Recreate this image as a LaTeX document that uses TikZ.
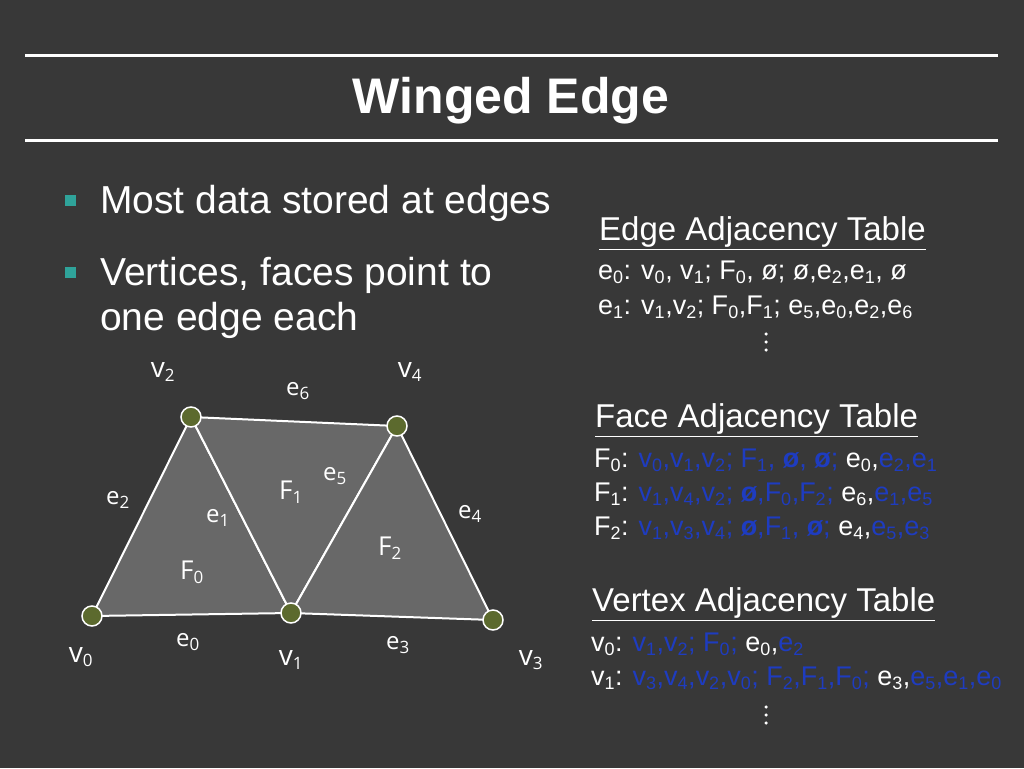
\documentclass[tikz,border=0pt]{standalone}
\usepackage{fontspec}
\setmainfont{Liberation Sans}
\newfontfamily\lblfont{Open Sans}
\definecolor{bg}{HTML}{383838}
\definecolor{bl}{HTML}{1E3CC0}
\definecolor{tealc}{HTML}{2FA39A}
\definecolor{vdot}{HTML}{5C6A2E}
\definecolor{face}{HTML}{686868}
\newcommand{\B}[1]{\textcolor{bl}{#1}}
\newcommand{\sbs}[1]{\ensuremath{_{\mbox{\fontsize{18}{18}\selectfont #1}}}}
\newcommand{\sbl}[1]{\ensuremath{_{\mbox{\lblfont\fontsize{17}{17}\selectfont #1}}}}
\begin{document}
\begin{tikzpicture}[x=1pt,y=-1pt,
  vtx/.style={circle,fill=vdot,draw=white,line width=1.5pt,minimum size=20pt,inner sep=0pt},
  lbl/.style={text=white,font=\lblfont\fontsize{24}{26}\selectfont,inner sep=0pt},
  tri/.style={fill=face,draw=white,line width=2pt,line join=round},
  row/.style={text=white,anchor=west,inner sep=0pt,font=\fontsize{27}{29}\selectfont},
  hdr/.style={text=white,anchor=west,inner sep=0pt,font=\fontsize{33}{35}\selectfont},
  dot/.style={circle,fill=white,inner sep=0pt,minimum size=3.5pt}]
\useasboundingbox (0,0) rectangle (1024,768);
\fill[bg] (0,0) rectangle (1024,768);
\draw[white,line width=3pt] (25,56) -- (998,56);
\draw[white,line width=3pt] (25,140) -- (998,140);
\node[text=white,font=\bfseries\fontsize{50}{52}\selectfont] (title) at (511,101) {Winged Edge};
\fill[tealc] (65,195) rectangle (76,206);
\fill[tealc] (65,267) rectangle (76,278);
\node[text=white,anchor=west,font=\fontsize{39}{42}\selectfont,inner sep=0pt] (b1) at (100,203) {Most data stored at edges};
\node[text=white,anchor=west,font=\fontsize{39}{42}\selectfont,inner sep=0pt,align=left] (b2) at (100,298) {Vertices, faces point to\\[3pt]one edge each};
% mesh
\coordinate (p0) at (92,616); \coordinate (p1) at (291,613); \coordinate (p2) at (191,417);
\coordinate (p3) at (493,620); \coordinate (p4) at (397,426);
\filldraw[tri] (p0) -- (p1) -- (p2) -- cycle;
\filldraw[tri] (p2) -- (p1) -- (p4) -- cycle;
\filldraw[tri] (p1) -- (p3) -- (p4) -- cycle;
\node[vtx] (v0) at (p0) {}; \node[vtx] (v1) at (p1) {}; \node[vtx] (v2) at (p2) {};
\node[vtx] (v3) at (p3) {}; \node[vtx] (v4) at (p4) {};
\node[lbl,font=\lblfont\fontsize{28}{30}\selectfont] (lv0) at (81,657) {v\sbl{0}};
\node[lbl,font=\lblfont\fontsize{28}{30}\selectfont] (lv1) at (291,660) {v\sbl{1}};
\node[lbl,font=\lblfont\fontsize{28}{30}\selectfont] (lv2) at (163,372) {v\sbl{2}};
\node[lbl,font=\lblfont\fontsize{28}{30}\selectfont] (lv3) at (531,660) {v\sbl{3}};
\node[lbl,font=\lblfont\fontsize{28}{30}\selectfont] (lv4) at (410,372) {v\sbl{4}};
\node[lbl] (le0) at (188,642) {e\sbl{0}};
\node[lbl] (le1) at (218,518) {e\sbl{1}};
\node[lbl] (le2) at (118,500) {e\sbl{2}};
\node[lbl] (le3) at (398,645) {e\sbl{3}};
\node[lbl] (le4) at (470,514) {e\sbl{4}};
\node[lbl] (le5) at (335,476) {e\sbl{5}};
\node[lbl] (le6) at (298,391) {e\sbl{6}};
\node[lbl,font=\lblfont\fontsize{26}{28}\selectfont] (F0) at (192,572) {F\sbl{0}};
\node[lbl,font=\lblfont\fontsize{26}{28}\selectfont] (F1) at (291,492) {F\sbl{1}};
\node[lbl,font=\lblfont\fontsize{26}{28}\selectfont] (F2) at (390,548) {F\sbl{2}};
% edge table
\node[hdr] (eh) at (599,233) {\underline{Edge Adjacency Table}};
\node[row] (er0) at (598,272) {e\sbs{0}: v\sbs{0}, v\sbs{1}; F\sbs{0}, ø; ø,e\sbs{2},e\sbs{1}, ø};
\node[row] (er1) at (598,307) {e\sbs{1}: v\sbs{1},v\sbs{2}; F\sbs{0},F\sbs{1}; e\sbs{5},e\sbs{0},e\sbs{2},e\sbs{6}};
\node[dot] (ed1) at (766,334) {}; \node[dot] (ed2) at (766,342) {}; \node[dot] (ed3) at (766,350) {};
% face table
\node[hdr] (fh) at (595,420) {\underline{Face Adjacency Table}};
\node[row] (fr0) at (594,460) {F\sbs{0}: \B{v\sbs{0},v\sbs{1},v\sbs{2}; F\sbs{1}, \textbf{ø}, \textbf{ø};} e\sbs{0},\B{e\sbs{2},e\sbs{1}}};
\node[row] (fr1) at (594,494) {F\sbs{1}: \B{v\sbs{1},v\sbs{4},v\sbs{2}; \textbf{ø},F\sbs{0},F\sbs{2};} e\sbs{6},\B{e\sbs{1},e\sbs{5}}};
\node[row] (fr2) at (594,528) {F\sbs{2}: \B{v\sbs{1},v\sbs{3},v\sbs{4}; \textbf{ø},F\sbs{1}, \textbf{ø};} e\sbs{4},\B{e\sbs{5},e\sbs{3}}};
% vertex table
\node[hdr] (vh) at (592,604) {\underline{Vertex Adjacency Table}};
\node[row] (vr0) at (591,644) {v\sbs{0}: \B{v\sbs{1},v\sbs{2}; F\sbs{0};} e\sbs{0},\B{e\sbs{2}}};
\node[row] (vr1) at (591,678) {v\sbs{1}: \B{v\sbs{3},v\sbs{4},v\sbs{2},v\sbs{0}; F\sbs{2},F\sbs{1},F\sbs{0};} e\sbs{3},\B{e\sbs{5},e\sbs{1},e\sbs{0}}};
\node[dot] (vd1) at (766,707) {}; \node[dot] (vd2) at (766,715) {}; \node[dot] (vd3) at (766,723) {};
\end{tikzpicture}
\end{document}
